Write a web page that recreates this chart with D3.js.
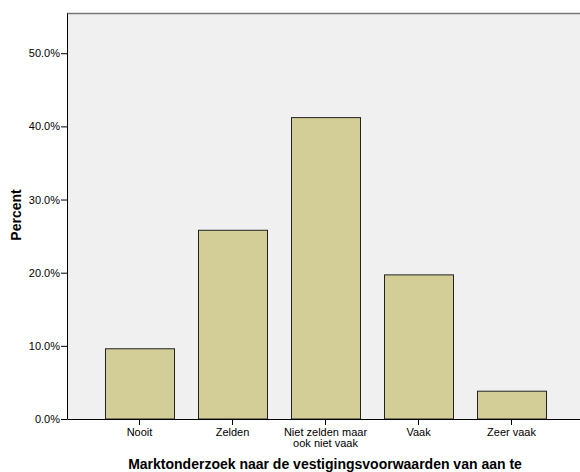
<!DOCTYPE html>
<html><head><meta charset="utf-8">
<script src="https://cdn.jsdelivr.net/npm/d3@7"></script>
<style>body{margin:0;background:#fff;} svg{display:block;font-family:"Liberation Sans",Arial,sans-serif;}</style>
</head><body>
<script>
const categories = ["Nooit", "Zelden", "Niet zelden maar ook niet vaak", "Vaak", "Zeer vaak"];
const categoryLines = [["Nooit"], ["Zelden"], ["Niet zelden maar", "ook niet vaak"], ["Vaak"], ["Zeer vaak"]];
const percents = [9.6, 25.8, 41.2, 19.7, 3.8];
const yTicks = [0, 10, 20, 30, 40, 50];
const xTitle = "Marktonderzoek naar de vestigingsvoorwaarden van aan te";
const yTitle = "Percent";

const W = 580, H = 472;
const pLeft = 67, pTop = 13, pRight = 584, pBottom = 419;

const svg = d3.select("body").append("svg").attr("width", W).attr("height", H);

const x = d3.scaleBand().domain(categories).range([pLeft, pRight]).paddingInner(0.258).paddingOuter(0.4085);
const y = d3.scaleLinear().domain([0, 55.5]).range([pBottom, pTop]);

svg.append("rect").attr("x", pLeft).attr("y", pTop).attr("width", pRight - pLeft).attr("height", pBottom - pTop).attr("fill", "#f0f0f0");
svg.append("line").attr("x1", pLeft).attr("x2", pRight).attr("y1", pTop + 0.5).attr("y2", pTop + 0.5).attr("stroke", "#777").attr("stroke-width", 1.5);

svg.selectAll("rect.bar").data(categories).enter().append("rect").attr("class", "bar")
  .attr("x", d => x(d) + 0.5)
  .attr("y", (d, i) => y(percents[i]))
  .attr("width", x.bandwidth())
  .attr("height", (d, i) => pBottom - y(percents[i]))
  .attr("fill", "#d3ce97").attr("stroke", "#222").attr("stroke-width", 1);

const yAxis = d3.axisLeft(y).tickValues(yTicks).tickFormat(d => d.toFixed(1) + "%").tickSize(6).tickSizeOuter(0);
const gy = svg.append("g").attr("transform", `translate(${pLeft},0)`).call(yAxis);
gy.select(".domain").attr("stroke", "#000");
gy.selectAll(".tick line").attr("stroke", "#000");
gy.selectAll(".tick text").attr("font-size", 11).attr("font-family", "Liberation Sans, Arial, sans-serif").attr("fill", "#000").attr("x", -7);

const xAxis = d3.axisBottom(x).tickSize(6).tickSizeOuter(0).tickFormat("");
const gx = svg.append("g").attr("transform", `translate(0,${pBottom})`).call(xAxis);
gx.select(".domain").attr("stroke", "#000");
gx.selectAll(".tick line").attr("stroke", "#000");
gx.selectAll(".tick").each(function(d, i) {
  const t = d3.select(this).append("text").attr("fill", "#000").attr("font-size", 11)
    .attr("font-family", "Liberation Sans, Arial, sans-serif").attr("text-anchor", "middle");
  categoryLines[i].forEach((s, j) => t.append("tspan").attr("x", 0).attr("y", 17 + j * 11).text(s));
});

svg.append("text").attr("x", 325).attr("y", 469).attr("text-anchor", "middle")
  .attr("font-size", 14).attr("font-weight", "bold").attr("fill", "#000").text(xTitle);
svg.append("text").attr("transform", "translate(21,215) rotate(-90)").attr("text-anchor", "middle")
  .attr("font-size", 14).attr("font-weight", "bold").attr("fill", "#000").text(yTitle);
</script>
</body></html>
